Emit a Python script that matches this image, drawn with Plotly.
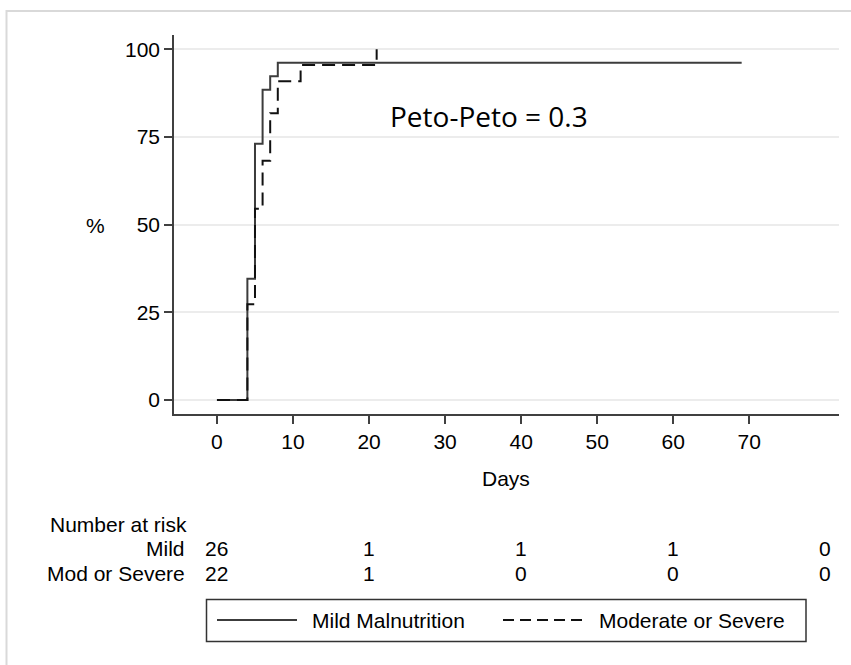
import plotly.graph_objects as go

# ---- data ----
mild_days = [0, 4, 5, 6, 7, 8, 69]
mild_pct = [0, 34.6, 73.1, 88.5, 92.3, 96.2, 96.2]
mod_days = [0, 4, 5, 6, 7, 8, 11, 21]
mod_pct = [0, 27.3, 54.5, 68.2, 81.8, 90.9, 95.5, 100]

x_ticks = [0, 10, 20, 30, 40, 50, 60, 70]
y_ticks = [0, 25, 50, 75, 100]

risk_days = [0, 20, 40, 60, 80]
risk_mild = [26, 1, 1, 1, 0]
risk_mod = [22, 1, 0, 0, 0]
risk_labels = ["Mild", "Mod or Severe"]
legend_labels = ["Mild Malnutrition", "Moderate or Severe"]
test_text = "Peto-Peto = 0.3"

W, H = 851, 665
L, R, T, B = 174, 839, 35, 414


def px(x):
    return (x - L) / (R - L)


def py(y):
    return (B - y) / (B - T)


FONT = "Liberation Sans, Arial, sans-serif"
FS = 21
AX = "#404040"

fig = go.Figure()
fig.add_trace(go.Scatter(x=mild_days, y=mild_pct, mode="lines", line_shape="hv",
                         line=dict(color="#3c3c3c", width=2), name=legend_labels[0],
                         showlegend=False))
fig.add_trace(go.Scatter(x=mod_days, y=mod_pct, mode="lines", line_shape="hv",
                         line=dict(color="#111111", width=2, dash="13px,7px"),
                         name=legend_labels[1], showlegend=False))

ann = []
# peto annotation
ann.append(dict(x=px(489), y=py(116.5), xref="paper", yref="paper", text=test_text,
                showarrow=False, font=dict(family="Open Sans", size=28, color="black"),
                xanchor="center", yanchor="middle"))
# axis titles
ann.append(dict(x=px(95), y=py(225), xref="paper", yref="paper", text="%",
                showarrow=False, font=dict(family=FONT, size=FS, color="black"),
                xanchor="center", yanchor="middle"))
ann.append(dict(x=px(506), y=py(478.5), xref="paper", yref="paper", text="Days",
                showarrow=False, font=dict(family=FONT, size=FS, color="black"),
                xanchor="center", yanchor="middle"))
# number at risk
ann.append(dict(x=px(48), y=py(524), xref="paper", yref="paper", text="Number at risk",
                showarrow=False, font=dict(family=FONT, size=FS, color="black"),
                xanchor="left", yanchor="middle"))
row_y = [548, 573.5]
for lab, vals, yy in zip(risk_labels, [risk_mild, risk_mod], row_y):
    ann.append(dict(x=px(187), y=py(yy), xref="paper", yref="paper", text=lab,
                    showarrow=False, font=dict(family=FONT, size=FS, color="black"),
                    xanchor="right", yanchor="middle"))
    for d, v in zip(risk_days, vals):
        ann.append(dict(x=d, y=py(yy), xref="x", yref="paper", text=str(v),
                        showarrow=False, font=dict(family=FONT, size=FS, color="black"),
                        xanchor="center", yanchor="middle"))
# legend texts
ann.append(dict(x=px(310), y=py(620.5), xref="paper", yref="paper", text=legend_labels[0],
                showarrow=False, font=dict(family=FONT, size=FS, color="black"),
                xanchor="left", yanchor="middle"))
ann.append(dict(x=px(597), y=py(620.5), xref="paper", yref="paper", text=legend_labels[1],
                showarrow=False, font=dict(family=FONT, size=FS, color="black"),
                xanchor="left", yanchor="middle"))

shapes = [
    # outer frame
    dict(type="rect", xref="paper", yref="paper", x0=px(6.5), x1=px(858), y0=py(11), y1=py(670),
         line=dict(color="#d9d9d9", width=2), layer="below"),
    # legend box
    dict(type="rect", xref="paper", yref="paper", x0=px(206.5), x1=px(806), y0=py(599.5), y1=py(641.5),
         line=dict(color="#333333", width=1.5)),
    dict(type="line", xref="paper", yref="paper", x0=px(217), x1=px(297), y0=py(620), y1=py(620),
         line=dict(color="#3c3c3c", width=2)),
    dict(type="line", xref="paper", yref="paper", x0=px(503), x1=px(583), y0=py(620), y1=py(620),
         line=dict(color="#111111", width=2, dash="11px,6px")),
]

fig.update_layout(
    width=W, height=H,
    margin=dict(l=L, r=W - R, t=T, b=H - B),
    paper_bgcolor="white", plot_bgcolor="white",
    font=dict(family=FONT, size=FS, color="black"),
    annotations=ann, shapes=shapes, showlegend=False,
)
fig.update_xaxes(range=[-5.65, 81.8], tickvals=x_ticks, ticks="outside", ticklen=8,
                 tickwidth=1.5, tickcolor=AX, showline=True, linecolor=AX, linewidth=1.5,
                 showgrid=False, zeroline=False, tickfont=dict(size=FS, color="black"))
fig.update_yaxes(range=[-4, 104.08], tickvals=y_ticks, ticks="outside", ticklen=8,
                 tickwidth=1.5, tickcolor=AX, showline=True, linecolor=AX, linewidth=1.5,
                 showgrid=True, gridcolor="#ececec", gridwidth=2, zeroline=False,
                 tickfont=dict(size=FS, color="black"))

fig.write_html("out.html")
